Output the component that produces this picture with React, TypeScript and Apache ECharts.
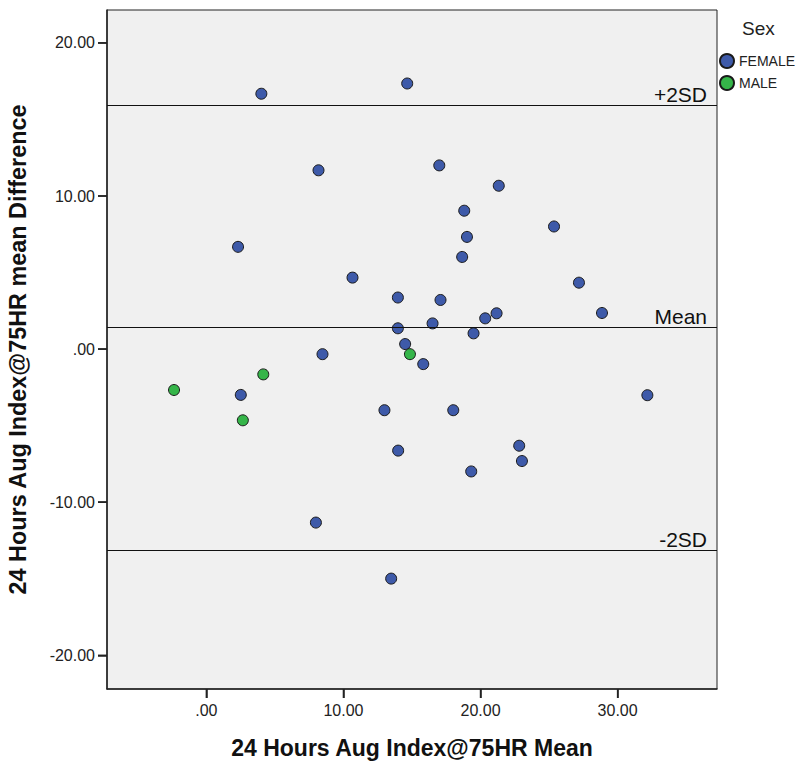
import React, { useEffect, useRef } from "react";
import * as echarts from "echarts";

const femaleX = [4.01, 14.65, 8.18, 16.99, 21.33, 18.81, 19.01, 18.66, 25.36, 2.31, 10.66, 27.18, 13.97, 17.08, 20.34, 21.17, 28.86, 13.97, 16.5, 19.49, 8.47, 14.5, 15.82, 2.51, 12.99, 18.01, 13.99, 22.82, 23.02, 19.32, 32.17, 7.99, 13.48];
const femaleY = [16.68, 17.35, 11.68, 12.0, 10.67, 9.04, 7.33, 6.02, 8.01, 6.68, 4.67, 4.34, 3.37, 3.21, 2.01, 2.34, 2.36, 1.36, 1.68, 1.03, -0.33, 0.33, -0.98, -2.99, -3.99, -3.99, -6.63, -6.31, -7.31, -7.99, -3.01, -11.33, -14.99];
const maleX = [-2.36, 2.66, 4.15, 14.85];
const maleY = [-2.67, -4.65, -1.65, -0.33];

const refValues = [15.93, 1.42, -13.12];
const refLabels = ["+2SD", "Mean", "-2SD"];

const xTicks = [0, 10, 20, 30];
const yTicks = [-20, -10, 0, 10, 20];
const xRange = [-7.25, 37.25];
const yRange = [-22.2, 22.15];

const seriesNames = ["FEMALE", "MALE"];
const seriesColors = ["#3e5aa9", "#35b549"];

const fmt = (v: number) => (v === 0 ? ".00" : v.toFixed(2));
const FONT = "Liberation Sans, Arial, sans-serif";
const TICK_LEN = 9;

export default function App() {
  const ref = useRef<HTMLDivElement>(null);
  useEffect(() => {
    document.body.style.margin = "0";
    if (!ref.current) return;
    const chart = echarts.init(ref.current, undefined, { renderer: "svg" });
    const zip = (xs: number[], ys: number[]) => xs.map((x, i) => [x, ys[i]]);
    chart.setOption({
      animation: false,
      textStyle: { fontFamily: FONT },
      title: {
        text: "Sex",
        left: 742,
        top: 19,
        padding: 0,
        textStyle: { fontFamily: FONT, fontSize: 19, fontWeight: "normal", color: "#222" },
      },
      legend: {
        orient: "vertical",
        left: 719,
        top: 53,
        padding: 0,
        itemWidth: 14,
        itemHeight: 14,
        itemGap: 6,
        icon: "circle",
        data: seriesNames,
        textStyle: { fontFamily: FONT, fontSize: 14, color: "#222" },
      },
      grid: {
        left: 107,
        right: 90,
        top: 10,
        bottom: 73,
        show: true,
        backgroundColor: "#f0f0f0",
        borderColor: "#222",
        borderWidth: 1,
        outerBoundsMode: "none",
        containLabel: false,
      },
      xAxis: {
        type: "value",
        min: xRange[0],
        max: xRange[1],
        name: "24 Hours Aug Index@75HR Mean",
        nameLocation: "middle",
        nameGap: 47,
        nameTextStyle: { fontFamily: FONT, fontSize: 23, fontWeight: "bold", color: "#111" },
        axisLine: { show: true, onZero: false, lineStyle: { color: "#222", width: 1.5 } },
        axisTick: { show: true, inside: false, length: TICK_LEN, customValues: xTicks, lineStyle: { color: "#222", width: 1.5 } },
        axisLabel: {
          customValues: xTicks,
          formatter: (v: number) => `{t| }\n{v|${fmt(v)}}`,
          margin: 0,
          rich: {
            t: { width: 1.5, height: TICK_LEN, lineHeight: TICK_LEN, fontSize: 1, backgroundColor: "#222" },
            v: { fontFamily: FONT, fontSize: 16, lineHeight: 24, color: "#222" },
          },
        },
        splitLine: { show: false },
      },
      yAxis: {
        type: "value",
        min: yRange[0],
        max: yRange[1],
        name: "24 Hours Aug Index@75HR mean Difference",
        nameLocation: "middle",
        nameGap: 78,
        nameTextStyle: { fontFamily: FONT, fontSize: 23.4, fontWeight: "bold", color: "#111" },
        axisLine: { show: true, onZero: false, lineStyle: { color: "#222", width: 1.5 } },
        axisTick: { show: true, inside: false, length: TICK_LEN, customValues: yTicks, lineStyle: { color: "#222", width: 1.5 } },
        axisLabel: {
          customValues: yTicks,
          formatter: (v: number) => `{v|${fmt(v)}}{g| }{t| }`,
          margin: 0,
          rich: {
            v: { fontFamily: FONT, fontSize: 16, color: "#222", verticalAlign: "middle" },
            g: { width: 3, fontSize: 1, verticalAlign: "middle" },
            t: { width: TICK_LEN, height: 1.5, fontSize: 1, backgroundColor: "#222", verticalAlign: "middle" },
          },
        },
        splitLine: { show: false },
      },
      series: [
        {
          name: seriesNames[0],
          type: "scatter",
          symbolSize: 11,
          data: zip(femaleX, femaleY),
          itemStyle: { color: seriesColors[0], borderColor: "#1a1a1a", borderWidth: 1, opacity: 1 },
          markLine: {
            silent: true,
            symbol: "none",
            lineStyle: { color: "#111", width: 1, type: "solid" },
            label: {
              position: "insideEndTop",
              fontFamily: FONT,
              fontSize: 21,
              color: "#111",
              distance: [10, 0],
              formatter: (p: any) => refLabels[refValues.indexOf(p.value)] ?? "",
            },
            data: refValues.map((v) => ({ yAxis: v })),
          },
        },
        {
          name: seriesNames[1],
          type: "scatter",
          symbolSize: 11,
          data: zip(maleX, maleY),
          itemStyle: { color: seriesColors[1], borderColor: "#1a1a1a", borderWidth: 1, opacity: 1 },
        },
      ],
    });
    return () => chart.dispose();
  }, []);
  return <div ref={ref} style={{ width: 807, height: 762 }} />;
}
